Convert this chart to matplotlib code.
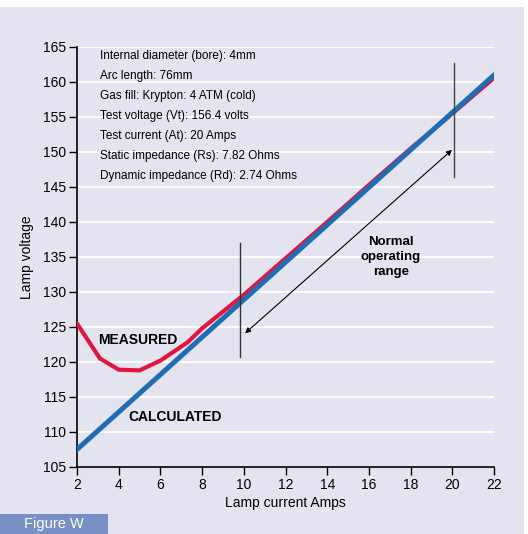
import numpy as np
import matplotlib
matplotlib.use('Agg')
import matplotlib.pyplot as plt
from matplotlib.patches import Rectangle

plt.rcParams['font.family'] = ['Liberation Sans', 'DejaVu Sans']

# data
calc_x = [2, 22]
calc_y = [107.5, 161.0]
meas_x = [2, 3.1, 4, 5, 6, 7.3, 8, 10, 12, 14, 16, 18, 20, 22]
meas_y = [125.5, 120.5, 118.9, 118.8, 120.2, 122.8, 124.8, 129.6, 134.8, 140.0, 145.3, 150.5, 155.5, 160.6]
info_lines = ["Internal diameter (bore): 4mm",
              "Arc length: 76mm",
              "Gas fill: Krypton: 4 ATM (cold)",
              "Test voltage (Vt): 156.4 volts",
              "Test current (At): 20 Amps",
              "Static impedance (Rs): 7.82 Ohms",
              "Dynamic impedance (Rd): 2.74 Ohms"]
xticks = list(range(2, 23, 2))
yticks = list(range(105, 166, 5))

bg = '#e4e4f0'
red = '#e2163c'
blue = '#1f6db4'

fig = plt.figure(figsize=(5.28, 5.34), dpi=100, facecolor='white')
fig.patches.append(Rectangle((0, 0), 0.992, 0.987, transform=fig.transFigure,
                             facecolor=bg, edgecolor='none', zorder=-10))
ax = fig.add_axes([0.1458, 0.1255, 0.79, 0.7865])
ax.set_facecolor(bg)

for y in yticks:
    ax.axhline(y, color='white', lw=1.3, zorder=1)

ax.plot(meas_x, meas_y, color=red, lw=3.0, zorder=3, solid_joinstyle='miter')
ax.plot(calc_x, calc_y, color=blue, lw=3.6, zorder=4)

# operating range markers
ax.plot([9.84, 9.84], [120.7, 137.0], color='#333333', lw=1.0, zorder=5)
ax.plot([20.08, 20.08], [146.4, 162.7], color='#444444', lw=1.0, zorder=5)
ax.annotate('', xy=(10.06, 124.1), xytext=(19.98, 150.3),
            arrowprops=dict(arrowstyle='<|-|>', color='black', lw=0.8,
                            mutation_scale=8, shrinkA=0, shrinkB=0), zorder=5)
ax.text(17.05, 135.0, "Normal\noperating\nrange", ha='center', va='center',
        fontsize=9.5, fontweight='bold', linespacing=1.3)

ax.text(3.0, 123.1, "MEASURED", ha='left', va='center', fontsize=10, fontweight='bold')
ax.text(4.45, 112.1, "CALCULATED", ha='left', va='center', fontsize=10, fontweight='bold')

for i, s in enumerate(info_lines):
    ax.text(3.1, 163.7 - i * 2.857, s, ha='left', va='center', fontsize=8.5)

ax.set_xlim(2, 22)
ax.set_ylim(105, 165)
ax.set_xticks(xticks)
ax.set_yticks(yticks)
ax.tick_params(direction='out', length=6, width=1, labelsize=10, pad=2)
for s in ['top', 'right']:
    ax.spines[s].set_visible(False)
ax.spines['left'].set_linewidth(1.2)
ax.spines['bottom'].set_linewidth(1.2)
ax.set_xlabel("Lamp current Amps", fontsize=10, labelpad=3)
ax.set_ylabel("Lamp voltage", fontsize=10, labelpad=6)

# figure tag bottom-left
fig.patches.append(Rectangle((0, 0), 108 / 528, 20 / 534, transform=fig.transFigure,
                             facecolor='#7890c6', edgecolor='none', zorder=1))
fig.text(54 / 528, 10 / 534, "Figure W", color='white', ha='center', va='center', fontsize=10.5)

fig.savefig('out.png', dpi=100, facecolor=fig.get_facecolor())
